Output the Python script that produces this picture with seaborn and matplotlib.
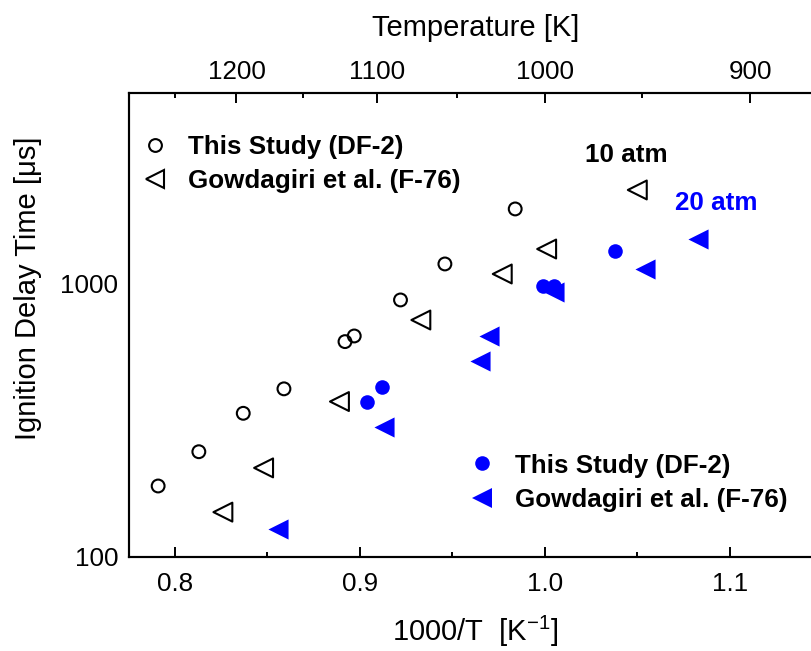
import matplotlib
matplotlib.use("Agg")
import matplotlib.pyplot as plt
from matplotlib.lines import Line2D
import seaborn as sns
import pandas as pd
import numpy as np

# ---- data ----
df2_10_x = [0.791, 0.813, 0.837, 0.859, 0.892, 0.897, 0.922, 0.946, 0.984]
df2_10_y = [182, 243, 336, 413, 615, 645, 874, 1184, 1883]
f76_10_x = [0.826, 0.848, 0.889, 0.933, 0.977, 1.001, 1.050]
f76_10_y = [146, 212, 371, 738, 1088, 1343, 2210]
df2_20_x = [0.904, 0.912, 0.999, 1.005, 1.038]
df2_20_y = [371, 420, 986, 987, 1321]
f76_20_x = [0.856, 0.913, 0.965, 0.970, 1.005, 1.054, 1.083]
f76_20_y = [127, 299, 524, 647, 938, 1135, 1462]

labels = ["This Study (DF-2)", "Gowdagiri et al. (F-76)"]
bottom_ticks = [0.8, 0.9, 1.0, 1.1]
bottom_minor = [0.85, 0.95, 1.05]
top_temps = [1200, 1100, 1000, 900]
top_minor_temps = [1250, 1150, 1050, 950]

sns.set_style("white")
plt.rcParams['font.family'] = ['Liberation Sans', 'DejaVu Sans']
plt.rcParams['mathtext.fontset'] = 'custom'
plt.rcParams['mathtext.rm'] = 'Liberation Sans'
plt.rcParams['mathtext.it'] = 'Liberation Sans:italic'
for k in ["text.color", "axes.labelcolor", "xtick.color", "ytick.color",
          "axes.edgecolor"]:
    plt.rcParams[k] = "black"

fig = plt.figure(figsize=(8.12, 6.51), dpi=100)
ax = fig.add_axes([0.1583, 0.1444, 0.8544, 0.7125])

def frame(x, y):
    return pd.DataFrame({"invT": x, "tau": y})

blue = "#0000FF"
sns.scatterplot(data=frame(df2_10_x, df2_10_y), x="invT", y="tau", ax=ax,
                marker="o", s=85, facecolor="none", edgecolor="black",
                linewidth=1.5, legend=False)
sns.scatterplot(data=frame(f76_10_x, f76_10_y), x="invT", y="tau", ax=ax,
                marker="<", s=185, facecolor="none", edgecolor="black",
                linewidth=1.5, legend=False)
sns.scatterplot(data=frame(df2_20_x, df2_20_y), x="invT", y="tau", ax=ax,
                marker="o", s=110, color=blue, edgecolor=blue,
                linewidth=0, legend=False)
sns.scatterplot(data=frame(f76_20_x, f76_20_y), x="invT", y="tau", ax=ax,
                marker="<", s=210, color=blue, edgecolor=blue,
                linewidth=0, legend=False)

ax.set_yscale("log")
ax.set_xlim(0.775, 1.15)
ax.set_ylim(100, 5000)

ax.set_xticks(bottom_ticks)
ax.set_xticklabels([f"{v:.1f}" for v in bottom_ticks])
ax.set_xticks(bottom_minor, minor=True)
ax.set_yticks([100, 1000])
ax.set_yticklabels(["100", "1000"])

for sp in ax.spines.values():
    sp.set_linewidth(1.5)
    sp.set_color("black")

ax.tick_params(axis="both", which="both", direction="in", color="black",
               labelcolor="black", labelsize=18.7, width=1.4)
ax.tick_params(axis="both", which="major", length=7)
ax.tick_params(axis="both", which="minor", length=3.5)
ax.tick_params(axis="x", which="both", pad=10.5, top=False)
ax.tick_params(axis="y", which="both", pad=7.5, right=False)

ax.set_xlabel(r"1000/T  [K$^{\mathrm{-1}}$]", fontsize=21, color="black")
ax.xaxis.set_label_coords(0.5, -0.122)
ax.set_ylabel("Ignition Delay Time [\u03bcs]", fontsize=21, color="black")
ax.yaxis.set_label_coords(-0.125, 0.58)

# top temperature axis
ax2 = ax.twiny()
ax2.set_xlim(ax.get_xlim())
ax2.set_xticks([1000.0 / T for T in top_temps])
ax2.set_xticklabels([str(T) for T in top_temps])
ax2.set_xticks([1000.0 / T for T in top_minor_temps], minor=True)
ax2.tick_params(axis="x", which="both", direction="in", labelsize=18.7,
                width=1.4, pad=6.8, color="black", labelcolor="black")
ax2.tick_params(axis="x", which="major", length=7)
ax2.tick_params(axis="x", which="minor", length=3.5)
ax2.set_xlabel("Temperature [K]", fontsize=21, color="black")
ax2.xaxis.set_label_coords(0.5, 1.123)
for sp in ax2.spines.values():
    sp.set_linewidth(1.5)
    sp.set_color("black")

# annotations
ax.text(1.0216, 2805, "10 atm", fontsize=18.7, fontweight="bold",
        color="black", ha="left", va="baseline")
ax.text(1.0703, 1866, "20 atm", fontsize=18.7, fontweight="bold",
        color=blue, ha="left", va="baseline")

# legends
h10 = [Line2D([], [], ls="", marker="o", ms=9.2, mfc="none", mec="black", mew=1.5),
       Line2D([], [], ls="", marker="<", ms=13.6, mfc="none", mec="black", mew=1.5)]
h20 = [Line2D([], [], ls="", marker="o", ms=10.5, mfc=blue, mec=blue, mew=0),
       Line2D([], [], ls="", marker="<", ms=14.5, mfc=blue, mec=blue, mew=0)]

leg_kw = dict(frameon=False, prop={"size": 18.7, "weight": "bold"},
              handlelength=1.0, handletextpad=0.77, borderpad=0,
              borderaxespad=0, labelspacing=0.4)
leg1 = ax2.legend(h10, labels, loc="upper left",
                  bbox_to_anchor=(142 / 812, 1 - 135 / 651),
                  bbox_transform=fig.transFigure, labelcolor="black", **leg_kw)
leg2 = ax2.legend(h20, labels, loc="upper left",
                  bbox_to_anchor=(469.5 / 812, 1 - 453.5 / 651),
                  bbox_transform=fig.transFigure, labelcolor="black", **leg_kw)
ax2.add_artist(leg1)

fig.savefig("out.png", dpi=100)
